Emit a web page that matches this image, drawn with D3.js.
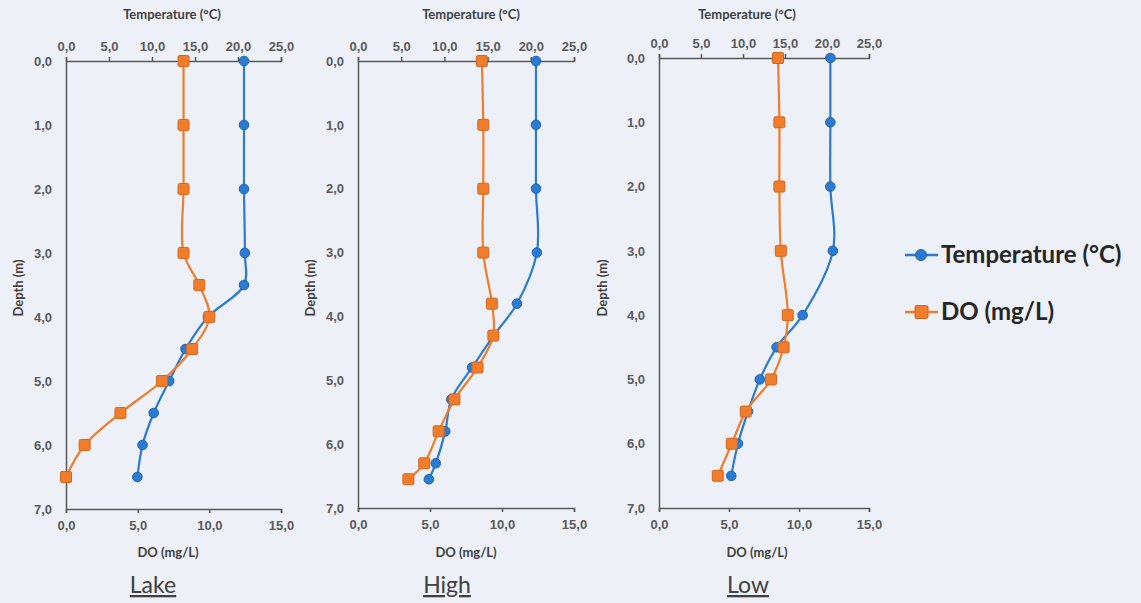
<!DOCTYPE html>
<html>
<head>
<meta charset="utf-8">
<script src="https://cdn.jsdelivr.net/npm/d3@7"></script>
<style>
  body { margin: 0; background: #edf0f7; }
  svg { display: block; font-family: Lato, "Open Sans", sans-serif; }
  .tick text { fill: #5a5a5a; font-weight: bold; font-size: 13px; }
  .domain, .tick line { stroke: #595959; stroke-width: 1.5; }
  .title { fill: #404040; font-weight: bold; font-size: 13px; }
</style>
</head>
<body>
<svg id="chart" width="1141" height="603"></svg>
<script>
// Data

const panels = ["Lake", "High", "Low"];

const lakeDepth = [0, 1, 2, 3, 3.5, 4, 4.5, 5, 5.5, 6, 6.5];
const lakeTemp  = [20.7, 20.7, 20.7, 20.8, 20.7, 16.5, 13.9, 12.0, 10.2, 8.9, 8.3];
const lakeDO    = [8.2, 8.2, 8.2, 8.2, 9.3, 10.0, 8.8, 6.7, 3.8, 1.3, 0.0];

const highDepth = [0, 1, 2, 3, 3.8, 4.3, 4.8, 5.3, 5.8, 6.3, 6.55];
const highTemp  = [20.6, 20.6, 20.6, 20.7, 18.4, 15.7, 13.2, 10.8, 10.1, 9.0, 8.2];
const highDO    = [8.6, 8.7, 8.7, 8.7, 9.3, 9.4, 8.3, 6.7, 5.6, 4.6, 3.5];

const lowDepth = [0, 1, 2, 3, 4, 4.5, 5, 5.5, 6, 6.5];
const lowTemp  = [20.4, 20.4, 20.4, 20.7, 17.1, 14.0, 12.0, 10.6, 9.4, 8.6];
const lowDO    = [8.5, 8.6, 8.6, 8.7, 9.2, 8.9, 8.0, 6.2, 5.2, 4.2];

const depthTicks = [0, 1, 2, 3, 4, 5, 6, 7];
const tempTicks = [0, 5, 10, 15, 20, 25];
const doTicks = [0, 5, 10, 15];

const series = [
    { depth: lakeDepth, temp: lakeTemp, DO: lakeDO },
    { depth: highDepth, temp: highTemp, DO: highDO },
    { depth: lowDepth,  temp: lowTemp,  DO: lowDO }
];

// Layout

const frames = [
    { left: 66,  right: 281, top: 61, bottom: 509, tempTitle: 172, doTitle: 168, label: 153, depthX: 21 },
    { left: 358, right: 574, top: 61, bottom: 508, tempTitle: 471, doTitle: 466, label: 447, depthX: 313 },
    { left: 659, right: 869, top: 58, bottom: 508, tempTitle: 747, doTitle: 757, label: 748, depthX: 605 }
];

const colors = { blue: "#2a7bd1", blueDark: "#1f64b0", orange: "#f07d2c", orangeDark: "#d9651a" };

const fmt = d3.format(".1f");
const comma = d => fmt(d).replace(".", ",");

const svg = d3.select("#chart");

panels.forEach((name, i) => {
    const f = frames[i];
    const s = series[i];

    const y = d3.scaleLinear().domain([0, 7]).range([f.top, f.bottom]);
    const xT = d3.scaleLinear().domain([0, 25]).range([f.left, f.right]);
    const xD = d3.scaleLinear().domain([0, 15]).range([f.left, f.right]);

    const g = svg.append("g");

    g.append("g")
        .attr("transform", `translate(0, ${f.top})`)
        .call(d3.axisTop(xT).tickValues(tempTicks).tickSize(4).tickSizeOuter(4).tickPadding(6).tickFormat(comma));

    g.append("g")
        .attr("transform", `translate(0, ${f.bottom})`)
        .call(d3.axisBottom(xD).tickValues(doTicks).tickSize(4).tickSizeOuter(4).tickPadding(8).tickFormat(comma));

    g.append("g")
        .attr("transform", `translate(${f.left}, 0)`)
        .call(d3.axisLeft(y).tickValues(depthTicks).tickSize(0).tickSizeOuter(0).tickPadding(14).tickFormat(comma));

    g.append("text").attr("class", "title")
        .attr("x", f.tempTitle).attr("y", 19)
        .attr("text-anchor", "middle")
        .text("Temperature (°C)");

    g.append("text").attr("class", "title")
        .attr("x", f.doTitle).attr("y", 557)
        .attr("text-anchor", "middle")
        .text("DO (mg/L)");

    g.append("text").attr("class", "title")
        .attr("transform", `translate(${f.depthX + 2}, 288) rotate(-90)`)
        .attr("text-anchor", "middle")
        .text("Depth (m)");

    g.append("text")
        .attr("x", f.label).attr("y", 593)
        .attr("text-anchor", "middle")
        .attr("fill", "#404040")
        .attr("font-size", 23)
        .attr("text-decoration", "underline")
        .text(name);

    const idx = d3.range(s.depth.length);
    const curve = d3.curveCatmullRom.alpha(0.5);

    const lineDO = d3.line().x(k => xD(s.DO[k])).y(k => y(s.depth[k])).curve(curve);
    const lineT = d3.line().x(k => xT(s.temp[k])).y(k => y(s.depth[k])).curve(curve);

    g.append("path").attr("d", lineT(idx))
        .attr("fill", "none").attr("stroke", colors.blue).attr("stroke-width", 2.2);

    g.selectAll(".dot").data(idx).join("circle")
        .attr("cx", k => xT(s.temp[k]))
        .attr("cy", k => y(s.depth[k]))
        .attr("r", 4.8)
        .attr("fill", colors.blue)
        .attr("stroke", colors.blueDark);

    g.append("path").attr("d", lineDO(idx))
        .attr("fill", "none").attr("stroke", colors.orange).attr("stroke-width", 2.2);

    g.selectAll(".sq").data(idx).join("rect")
        .attr("x", k => xD(s.DO[k]) - 5.5)
        .attr("y", k => y(s.depth[k]) - 5.5)
        .attr("width", 11).attr("height", 11)
        .attr("rx", 1.5)
        .attr("fill", colors.orange)
        .attr("stroke", colors.orangeDark);
});

// Legend

const legend = svg.append("g");

const legendItems = [
    { label: "Temperature (°C)", color: colors.blue, stroke: colors.blueDark, shape: "circle", y: 255 },
    { label: "DO (mg/L)", color: colors.orange, stroke: colors.orangeDark, shape: "square", y: 312 }
];

legendItems.forEach(item => {
    legend.append("line")
        .attr("x1", 905).attr("x2", 938)
        .attr("y1", item.y).attr("y2", item.y)
        .attr("stroke", item.color).attr("stroke-width", 2.5);

    if (item.shape === "circle") {
        legend.append("circle")
            .attr("cx", 921).attr("cy", item.y).attr("r", 5.5)
            .attr("fill", item.color).attr("stroke", item.stroke);
    } else {
        legend.append("rect")
            .attr("x", 915).attr("y", item.y - 6.5)
            .attr("width", 13).attr("height", 13).attr("rx", 1.5)
            .attr("fill", item.color).attr("stroke", item.stroke);
    }

    legend.append("text")
        .attr("x", 941).attr("y", item.y + 8)
        .attr("fill", "#262626")
        .attr("font-size", 24)
        .attr("font-weight", "bold")
        .text(item.label);
});
</script>
</body>
</html>
